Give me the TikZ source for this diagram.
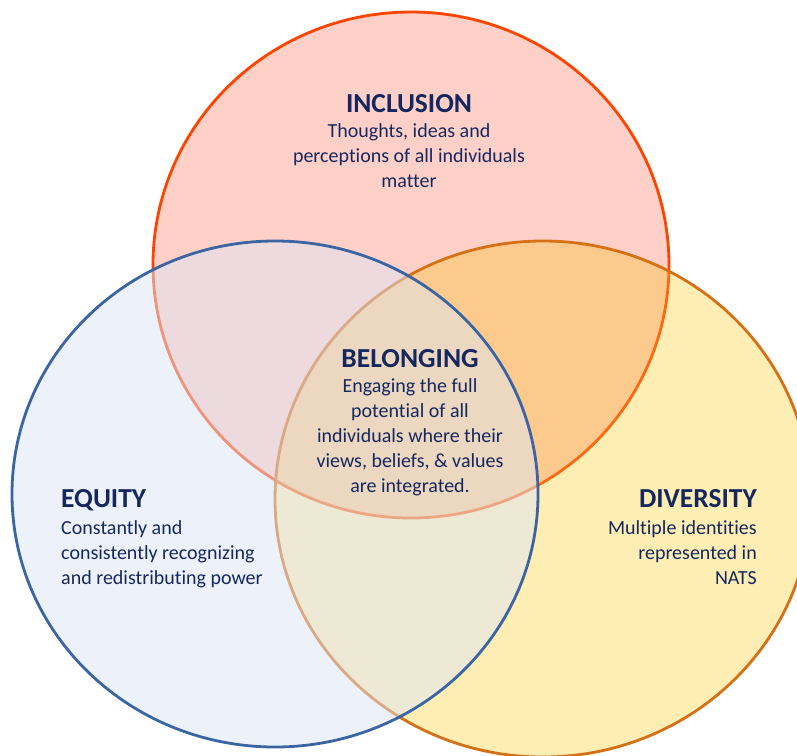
\documentclass[tikz,border=0pt]{standalone}
\usepackage{fontspec}
\setmainfont{Carlito}[Ligatures=NoCommon]
\usetikzlibrary{positioning}

\definecolor{navy}{RGB}{20,40,95}
\definecolor{inclfill}{RGB}{255,208,200}
\definecolor{inclline}{RGB}{255,68,0}
\definecolor{inclmix}{RGB}{255,104,18}
\definecolor{divfill}{RGB}{255,238,180}
\definecolor{divline}{RGB}{214,112,22}
\definecolor{overlap}{RGB}{253,202,142}
\definecolor{eqfill}{RGB}{220,229,245}
\definecolor{eqline}{RGB}{58,100,162}

\begin{document}
\begin{tikzpicture}[x=1pt,y=-1pt,
  ring/.style={line width=2.8pt},
  heading/.style={font=\fontsize{27.5}{32}\selectfont\bfseries, text=navy, inner sep=0pt},
  blurb/.style={font=\fontsize{20}{25}\selectfont, text=navy, inner sep=0pt}]

% the three sets
\def\inclusion{(411,265) ellipse [x radius=258, y radius=253]}
\def\diversity{(543,499) ellipse [x radius=268, y radius=258]}
\def\equity{(275,494) ellipse [x radius=263, y radius=253]}

\clip (0,0) rectangle (797,755);

\fill[inclfill] \inclusion;
\draw[ring, inclline] \inclusion;
\fill[divfill] \diversity;
\begin{scope}
  \clip \diversity;
  \fill[overlap] \inclusion;
  \draw[ring, inclmix] \inclusion;
\end{scope}
\draw[ring, divline] \diversity;
\fill[eqfill, fill opacity=0.5] \equity;
\draw[ring, eqline] \equity;

% labels
\node[heading, anchor=base] (incl) at (409,112) {INCLUSION};
\node[blurb, align=center, below=11.5pt of incl.base] (incltext)
  {Thoughts, ideas and\\perceptions of all individuals\\matter};

\node[heading, anchor=base] (bel) at (410,367) {BELONGING};
\node[blurb, align=center, below=11.5pt of bel.base] (beltext)
  {Engaging the full\\potential of all\\individuals where their\\views, beliefs, \& values\\are integrated.};

\node[heading, anchor=base west] (eq) at (61,507) {EQUITY};
\node[blurb, align=left, below=13pt of eq.base west, anchor=north west] (eqtext)
  {Constantly and\\consistently recognizing\\and redistributing power};

\node[heading, anchor=base east] (div) at (757,507) {DIVERSITY};
\node[blurb, align=right, below=13pt of div.base east, anchor=north east] (divtext)
  {Multiple identities\\represented in\\NATS};
\end{tikzpicture}
\end{document}
